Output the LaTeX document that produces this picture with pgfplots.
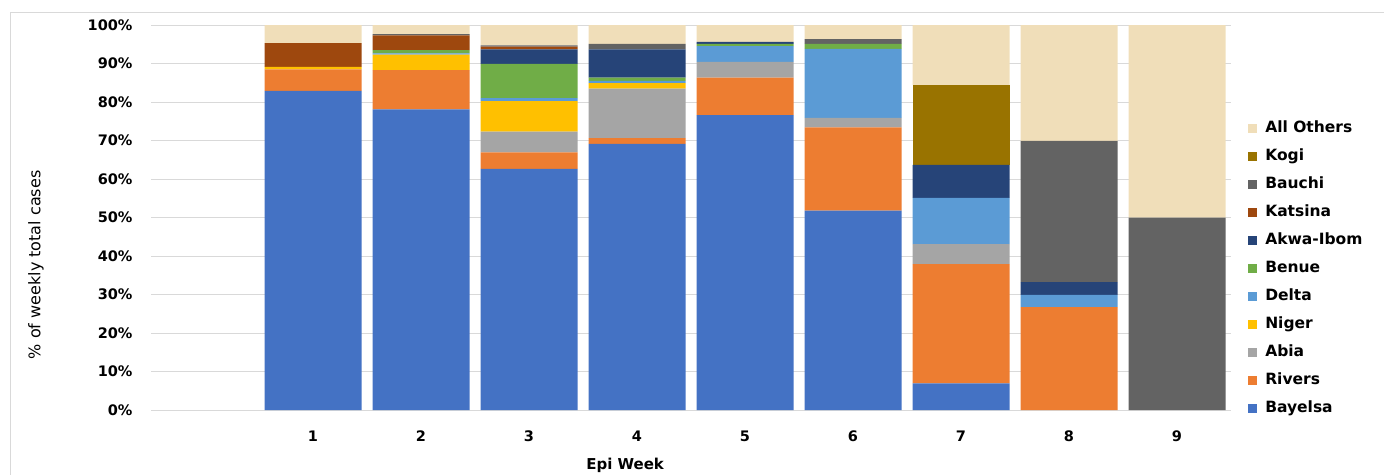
\documentclass[border=0pt]{standalone}
\usepackage{pgfplots}
\pgfplotsset{compat=1.18}
\usepackage{pgfplotstable}
\usepackage{fontspec}
\setmainfont{DejaVu Sans}

\definecolor{cBay}{HTML}{4472C4}
\definecolor{cRiv}{HTML}{ED7D31}
\definecolor{cAbi}{HTML}{A5A5A5}
\definecolor{cNig}{HTML}{FFC000}
\definecolor{cDel}{HTML}{5B9BD5}
\definecolor{cBen}{HTML}{70AD47}
\definecolor{cAkw}{HTML}{264478}
\definecolor{cKat}{HTML}{9E480E}
\definecolor{cBau}{HTML}{636363}
\definecolor{cKog}{HTML}{997300}
\definecolor{cOth}{HTML}{F0DEB9}
\definecolor{gridc}{HTML}{D9D9D9}

% share of weekly cases (%) by state, per epi week
\pgfplotstableread{
week bay  riv  abia nig  del  ben  akw  kat  bau  kog  oth
1    82.9 5.6  0    0.6  0    0    0    6.2  0    0    4.7
2    78.1 10.2 0    4.0  0.3  0.9  0    3.8  0.3  0    2.4
3    62.6 4.3  5.4  7.9  0.8  8.9  3.8  0.7  0.3  0    5.3
4    69.1 1.5  12.9 1.4  0.6  0.8  7.4  0    1.4  0    4.9
5    76.6 9.7  4.1  0    4.1  0.6  0.5  0    0    0    4.4
6    51.8 21.6 2.5  0    17.9 1.3  0    0    1.2  0    3.7
7    6.9  31.0 5.2  0    12.0 0    8.6  0    0    20.7 15.6
8    0    26.7 0    0    3.2  0    3.3  0    36.7 0    30.1
9    0    0    0    0    0    0    0    0    50.0 0    50.0
}\cases

\begin{document}
\begin{tikzpicture}
\useasboundingbox (0pt,0pt) rectangle (1384pt,-474pt);
\draw[gridc, line width=0.8pt] (10pt,-12pt) rectangle (1420pt,-520pt);
\begin{axis}[
  at={(151pt,-410pt)}, anchor=south west,
  scale only axis, width=1080pt, height=385pt,
  ybar stacked, bar width=97pt,
  xmin=-0.5, xmax=9.5, ymin=0, ymax=100,
  xtick={1,...,9}, ytick={0,10,...,100},
  yticklabel={\pgfmathprintnumber{\tick}\%},
  /pgf/number format/assume math mode=true,
  major tick length=0pt,
  axis x line*=bottom, axis y line*=left,
  x axis line style={gridc, line width=0.8pt, -},
  y axis line style={draw=none},
  ymajorgrids, grid style={gridc, line width=0.8pt},
  ticklabel style={font=\bfseries\fontsize{14.5}{16}\selectfont},
  yticklabel style={xshift=-15pt},
  xticklabel style={yshift=-17pt},
  ylabel={\% of weekly total cases},
  ylabel style={font=\fontsize{16}{18}\selectfont, at={(axis description cs:-0.1065,0.377)}, anchor=center, rotate=0},
  xlabel={Epi Week},
  xlabel style={font=\bfseries\fontsize{15}{17}\selectfont, at={(axis description cs:0.439,-0.143)}, anchor=center},
  reverse legend,
  legend cell align=left,
  legend image code/.code={\fill[#1] (0pt,-4.5pt) rectangle (9pt,4.5pt);},
  legend style={draw=none, fill=none, at={(axis description cs:1.0130,0.754)}, anchor=north west,
    font=\bfseries\fontsize{15.5}{17}\selectfont, row sep=14pt,
    nodes={inner sep=0pt, text height=11pt, text depth=3pt},
    /tikz/every odd column/.append style={column sep=8pt}},
]
\addplot[fill=cBay, draw=none] table[x=week, y=bay] {\cases};
\addplot[fill=cRiv, draw=none] table[x=week, y=riv] {\cases};
\addplot[fill=cAbi, draw=none] table[x=week, y=abia] {\cases};
\addplot[fill=cNig, draw=none] table[x=week, y=nig] {\cases};
\addplot[fill=cDel, draw=none] table[x=week, y=del] {\cases};
\addplot[fill=cBen, draw=none] table[x=week, y=ben] {\cases};
\addplot[fill=cAkw, draw=none] table[x=week, y=akw] {\cases};
\addplot[fill=cKat, draw=none] table[x=week, y=kat] {\cases};
\addplot[fill=cBau, draw=none] table[x=week, y=bau] {\cases};
\addplot[fill=cKog, draw=none] table[x=week, y=kog] {\cases};
\addplot[fill=cOth, draw=none] table[x=week, y=oth] {\cases};
\legend{Bayelsa, Rivers, Abia, Niger, Delta, Benue, Akwa-Ibom, Katsina, Bauchi, Kogi, All Others}
\end{axis}
\end{tikzpicture}
\end{document}
